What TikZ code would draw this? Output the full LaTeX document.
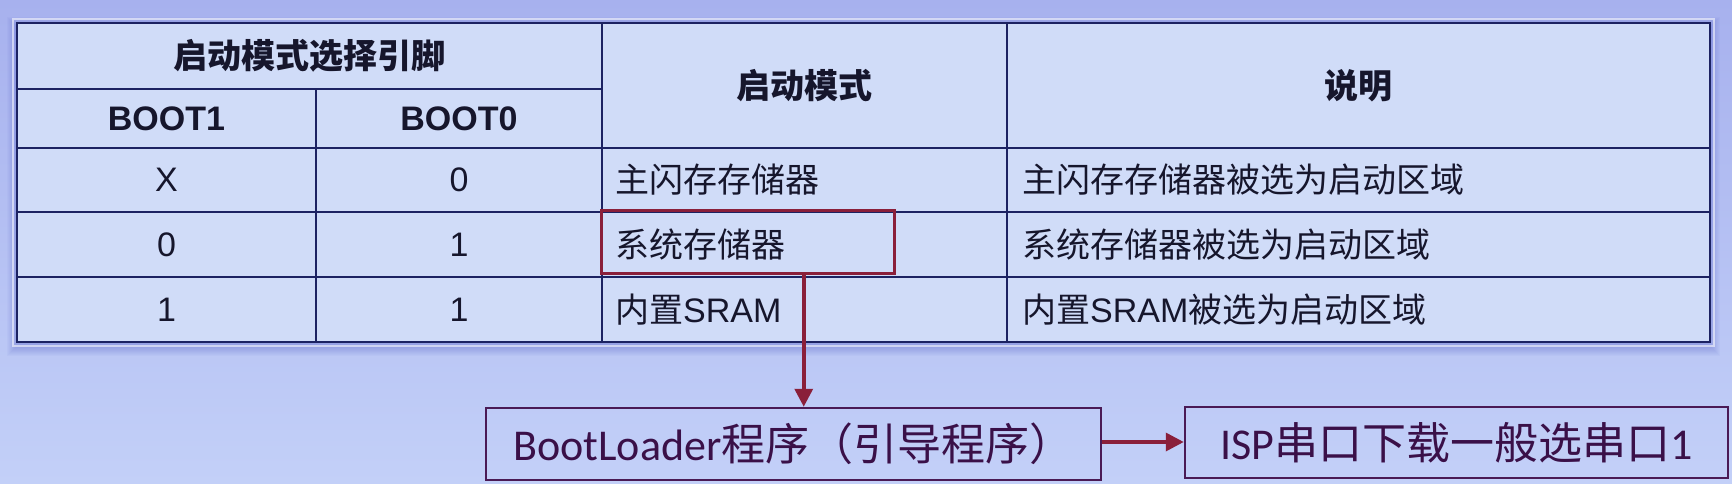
\documentclass[tikz,border=0pt]{standalone}
\usepackage{fontspec}
\usetikzlibrary{arrows.meta,calc}
\newfontfamily\cjkf{Noto Sans CJK SC}
\newfontfamily\arialf{Liberation Sans}
\newfontfamily\calf{Carlito}
\definecolor{bgtop}{HTML}{A7B1EE}
\definecolor{bgmid}{HTML}{C9D6F7}
\definecolor{bgbot}{HTML}{C3D0F8}
\definecolor{cellfill}{HTML}{D0DCF8}
\definecolor{gridc}{HTML}{1C2262}
\definecolor{redc}{HTML}{8A1F3A}
\definecolor{boxc}{HTML}{4A1A55}
\definecolor{boxtext}{HTML}{3A1048}
\definecolor{tabtext}{HTML}{16162C}
\definecolor{shadowc}{HTML}{5D68D0}
\begin{document}
\begin{tikzpicture}[x=1pt,y=-1pt,
  grid/.style={draw=gridc,line width=2.2pt},
  celltext/.style={text=tabtext,font=\fontsize{34}{40}\selectfont,inner sep=0pt},
  headtext/.style={text=tabtext,font=\fontsize{34}{40}\selectfont\bfseries,inner sep=0pt},
  leftcell/.style={celltext,anchor=west},
  flowbox/.style={draw=boxc,line width=2.5pt,text=boxtext,inner sep=0pt,
                  font=\fontsize{44}{50}\selectfont},
  redbox/.style={draw=redc,line width=3pt,inner sep=0pt},
  flowarrow/.style={draw=redc,line width=3.5pt,-{Triangle[length=18pt,width=18pt]}}]
\useasboundingbox (0,0) rectangle (1732,484);
% background
\shade[top color=bgtop,middle color=bgmid,bottom color=bgbot] (0,0) rectangle (1732,484);
% soft shadow of table
\foreach \i in {1,...,10}
  \fill[shadowc,opacity=0.045] ({17-\i},{27-\i}) rectangle ({1710+\i},{346+\i});
% light rim
\draw[white,opacity=0.55,line width=2pt] (13,19) rectangle (1714,346);
% table body
\fill[cellfill] (17,23) rectangle (1710,342);
\draw[grid,line width=2.6pt] (17,23) rectangle (1710,342);
\draw[grid] (17,89) -- (602,89);
\draw[grid] (17,148) -- (1710,148);
\draw[grid] (17,212) -- (1710,212);
\draw[grid] (17,277) -- (1710,277);
\draw[grid] (316,89) -- (316,342);
\draw[grid] (602,23) -- (602,342);
\draw[grid] (1007,23) -- (1007,342);
% header texts
\node[headtext] (hpins) at (309.5,56) {\cjkf 启动模式选择引脚};
\node[headtext] (hb1) at (166.5,118.5) {\arialf BOOT1};
\node[headtext] (hb0) at (459,118.5) {\arialf BOOT0};
\node[headtext] (hmode) at (804.5,85.5) {\cjkf 启动模式};
\node[headtext] (hdesc) at (1358.5,85.5) {\cjkf 说明};
% row 1
\node[celltext] (r1a) at (166.5,180) {\arialf X};
\node[celltext] (r1b) at (459,180) {\arialf 0};
\node[leftcell] (r1c) at (615,180) {\cjkf 主闪存存储器};
\node[leftcell] (r1d) at (1022,180) {\cjkf 主闪存存储器被选为启动区域};
% row 2
\node[celltext] (r2a) at (166.5,244.5) {\arialf 0};
\node[celltext] (r2b) at (459,244.5) {\arialf 1};
\node[leftcell] (r2c) at (615,244.5) {\cjkf 系统存储器};
\node[leftcell] (r2d) at (1022,244.5) {\cjkf 系统存储器被选为启动区域};
% row 3
\node[celltext] (r3a) at (166.5,309.5) {\arialf 1};
\node[celltext] (r3b) at (459,309.5) {\arialf 1};
\node[leftcell] (r3c) at (615,309.5) {{\cjkf 内置}{\arialf SRAM}};
\node[leftcell] (r3d) at (1022,309.5) {{\cjkf 内置}{\arialf SRAM}{\cjkf 被选为启动区域}};
% highlight box
\node[redbox,minimum width=293pt,minimum height=63pt] (sysbox) at (747.5,241.5) {};
% flow boxes
\node[flowbox,minimum width=615pt,minimum height=72pt] (boot) at (793.5,444)
  {{\calf BootLoader}{\cjkf 程序（引导程序）}};
\node[flowbox,minimum width=543pt,minimum height=71pt] (isp) at (1456.5,442.5)
  {{\calf ISP}{\cjkf 串口下载一般选串口}{\calf 1}};
% connectors
\coordinate (dropstart) at ($(sysbox.south west)!0.69!(sysbox.south east)$);
\draw[flowarrow] (dropstart) -- (dropstart |- boot.north);
\draw[flowarrow] (boot.east |- 0,442) -- (isp.west |- 0,442);
\end{tikzpicture}
\end{document}
